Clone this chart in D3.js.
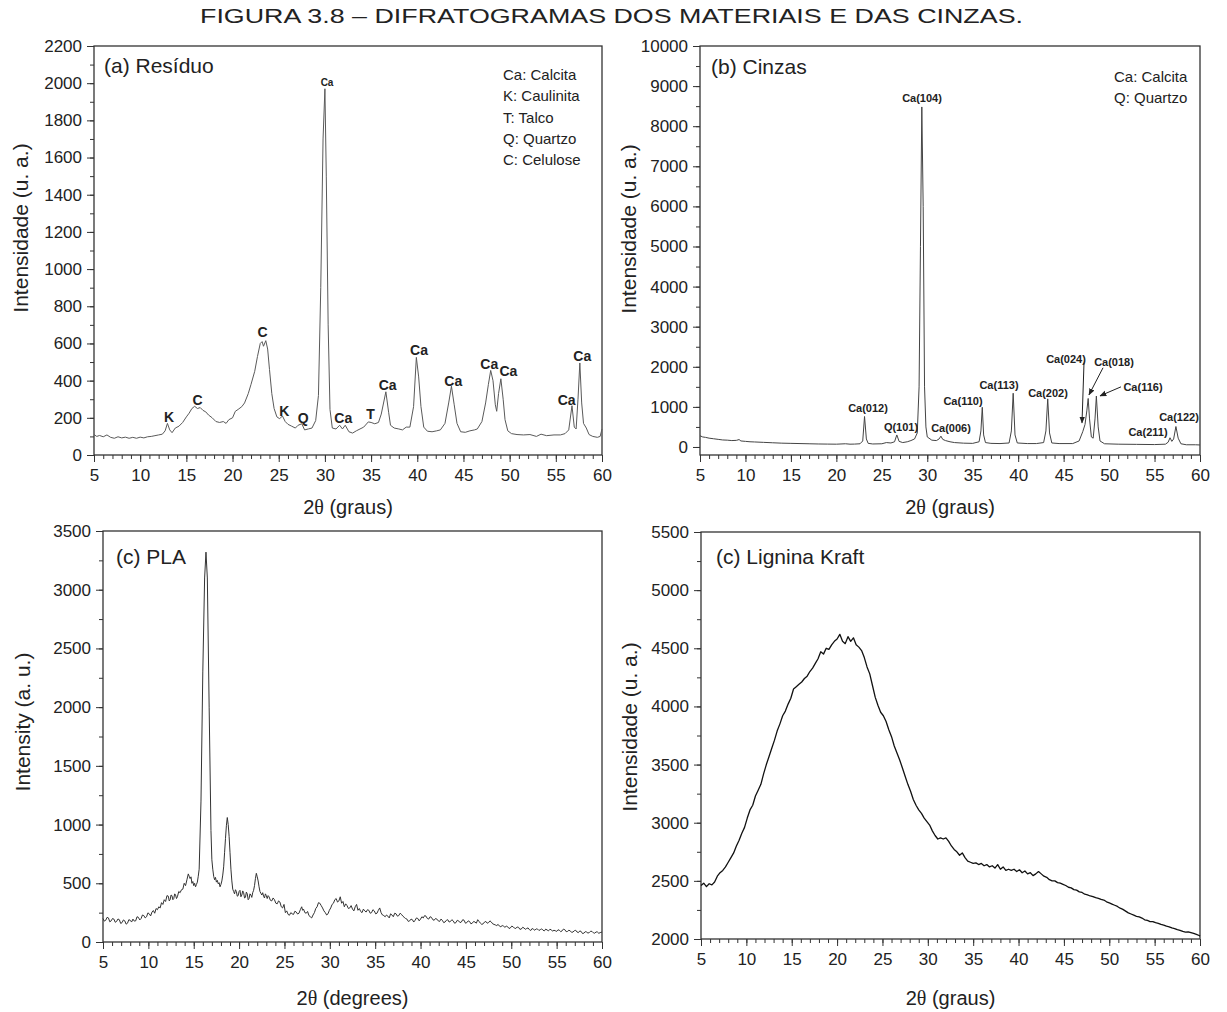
<!DOCTYPE html>
<html>
<head>
<meta charset="utf-8">
<script src="https://cdn.jsdelivr.net/npm/d3@7"></script>
<style>
  body { margin: 0; background: #fff; }
  text { font-family: "Liberation Sans", Arial, sans-serif; fill: #222; }
</style>
</head>
<body>
<svg id="fig" width="1227" height="1012"></svg>
<script>
// ---- data (2theta in degrees, intensity) ----
const xTicks = [5, 10, 15, 20, 25, 30, 35, 40, 45, 50, 55, 60];

const residuoData = [
  [5.0,110],[5.3,100],[5.6,105],[6.0,98],[6.4,108],[6.8,95],[7.2,90],[7.6,98],[8.0,92],[8.4,96],
  [8.8,90],[9.2,95],[9.6,90],[10.0,96],[10.4,92],[10.8,98],[11.2,100],[11.6,104],[12.0,108],[12.4,112],
  [12.7,130],[12.95,170],[13.2,135],[13.45,120],[13.8,145],[14.2,155],[14.6,175],[15.0,205],[15.3,225],
  [15.6,250],[15.9,262],[16.2,250],[16.5,255],[16.8,240],[17.1,232],[17.4,215],[17.8,200],[18.2,180],
  [18.6,175],[19.0,180],[19.3,170],[19.6,190],[20.0,200],[20.3,235],[20.6,245],[21.0,260],[21.3,280],
  [21.7,330],[22.0,380],[22.4,450],[22.7,530],[23.0,600],[23.2,610],[23.35,585],[23.6,615],[23.8,570],
  [24.0,460],[24.25,330],[24.5,250],[24.8,205],[25.1,195],[25.4,210],[25.7,180],[26.0,165],[26.4,155],
  [26.8,145],[27.1,160],[27.5,168],[27.8,135],[28.2,140],[28.6,145],[29.0,185],[29.3,320],[29.55,900],
  [29.8,1700],[30.0,1970],[30.15,1500],[30.35,700],[30.55,245],[30.8,145],[31.2,140],[31.6,160],
  [31.9,140],[32.2,160],[32.6,125],[33.0,118],[33.4,130],[33.8,140],[34.2,150],[34.7,178],[35.0,175],
  [35.4,168],[35.8,175],[36.1,220],[36.6,340],[36.9,230],[37.1,160],[37.5,145],[38.0,140],[38.4,135],
  [38.8,150],[39.2,150],[39.6,260],[39.9,525],[40.15,420],[40.4,260],[40.7,150],[41.1,128],[41.6,125],
  [42.1,130],[42.5,135],[43.0,170],[43.4,280],[43.7,370],[44.0,270],[44.3,170],[44.7,125],[45.2,122],
  [45.7,130],[46.2,135],[46.5,140],[47.0,180],[47.4,280],[47.7,380],[47.95,455],[48.2,400],[48.45,270],
  [48.6,235],[48.8,330],[49.05,410],[49.3,300],[49.5,190],[49.8,130],[50.2,115],[50.8,110],[51.5,108],
  [52.2,110],[52.9,100],[53.4,112],[54.0,104],[54.8,108],[55.5,108],[56.0,115],[56.4,135],[56.75,265],
  [57.0,150],[57.2,140],[57.4,300],[57.6,495],[57.8,280],[58.0,170],[58.3,145],[58.6,110],[59.0,100],
  [59.5,95],[59.8,100],[60.0,140]
];

const cinzasData = [
  [5.0,280],[5.3,250],[5.6,240],[6.0,220],[6.5,205],[7.0,190],[7.5,175],[8.0,170],[8.5,160],[9.0,165],
  [9.3,185],[9.5,150],[10.0,140],[10.5,130],[11.0,125],[12.0,115],[13.0,105],[14.0,95],[15.0,90],
  [16.0,85],[17.0,80],[18.0,75],[19.0,72],[20.0,70],[21.0,80],[21.5,70],[22.0,72],[22.6,80],[22.9,150],
  [23.1,760],[23.3,200],[23.5,90],[24.0,75],[25.0,80],[25.5,110],[26.0,100],[26.4,130],[26.65,300],
  [26.9,140],[27.3,110],[27.8,130],[28.2,160],[28.6,200],[28.9,350],[29.1,1500],[29.25,5000],[29.4,8480],
  [29.55,6000],[29.7,1500],[29.85,500],[30.0,250],[30.5,170],[31.0,160],[31.3,200],[31.5,270],[31.7,190],
  [32.0,160],[32.5,130],[33.0,110],[34.0,95],[35.0,90],[35.7,130],[35.9,400],[36.05,990],[36.2,300],
  [36.4,110],[37.0,90],[38.0,85],[39.0,100],[39.25,400],[39.45,1340],[39.65,300],[39.9,100],[41.0,85],
  [42.0,85],[42.8,110],[43.05,400],[43.25,1200],[43.45,350],[43.7,100],[44.5,85],[46.0,85],[46.7,150],
  [47.1,380],[47.35,560],[47.55,900],[47.7,1210],[47.85,700],[48.05,250],[48.25,220],[48.45,700],
  [48.6,1270],[48.8,500],[49.0,150],[49.5,80],[51.0,70],[53.0,65],[55.0,60],[56.2,70],[56.5,120],
  [56.7,230],[56.9,140],[57.1,200],[57.35,510],[57.6,220],[57.9,80],[58.5,55],[59.5,55],[60.0,50]
];

const plaData = [
  [5.0,200],[5.15,178],[5.3,185],[5.45,210],[5.6,205],[5.75,172],[5.9,180],[6.05,200],[6.2,195],
  [6.35,168],[6.5,175],[6.65,196],[6.8,190],[6.95,158],[7.1,165],[7.25,188],[7.4,180],[7.55,152],
  [7.7,160],[7.85,190],[8.0,185],[8.15,170],[8.3,195],[8.45,178],[8.6,180],[8.75,215],[8.9,210],
  [9.05,188],[9.2,200],[9.35,230],[9.5,225],[9.65,205],[9.8,215],[9.95,248],[10.1,240],[10.25,222],
  [10.4,255],[10.55,268],[10.7,245],[10.85,285],[11.0,275],[11.15,300],[11.3,290],[11.45,335],
  [11.6,320],[11.75,360],[11.9,345],[12.05,395],[12.2,390],[12.3,350],[12.4,360],[12.5,400],[12.6,395],
  [12.7,360],[12.8,370],[12.9,410],[13.0,400],[13.1,370],[13.2,385],[13.35,430],[13.5,420],[13.65,445],
  [13.8,450],[13.95,500],[14.1,480],[14.25,530],[14.4,580],[14.5,560],[14.6,540],[14.7,555],[14.8,500],
  [14.9,515],[15.0,480],[15.1,500],[15.2,470],[15.3,490],[15.4,510],[15.5,560],[15.6,620],[15.8,1200],
  [16.0,2300],[16.2,3100],[16.35,3320],[16.5,3100],[16.7,2000],[16.9,950],[17.0,700],[17.1,620],
  [17.2,560],[17.3,530],[17.4,550],[17.5,510],[17.6,525],[17.7,495],[17.8,505],[17.9,470],[18.0,490],
  [18.1,520],[18.2,570],[18.3,640],[18.4,760],[18.5,880],[18.6,990],[18.7,1060],[18.8,1000],[18.9,900],
  [19.0,760],[19.1,620],[19.2,520],[19.3,450],[19.4,430],[19.5,410],[19.6,445],[19.7,430],[19.8,390],
  [19.9,395],[20.0,430],[20.1,440],[20.2,385],[20.3,400],[20.4,435],[20.5,420],[20.6,375],[20.7,380],
  [20.8,425],[20.9,410],[21.0,360],[21.1,370],[21.2,410],[21.3,400],[21.4,380],[21.5,420],[21.6,440],
  [21.7,480],[21.8,540],[21.9,585],[22.0,555],[22.1,520],[22.2,470],[22.3,430],[22.4,415],[22.5,400],
  [22.6,420],[22.7,390],[22.8,375],[22.9,410],[23.0,395],[23.1,370],[23.2,395],[23.3,385],[23.45,355],
  [23.6,350],[23.75,375],[23.9,360],[24.05,330],[24.2,325],[24.35,350],[24.5,340],[24.65,300],
  [24.8,290],[24.95,320],[25.1,250],[25.25,265],[25.4,235],[25.55,228],[25.7,250],[25.85,240],
  [26.0,235],[26.15,262],[26.3,255],[26.45,238],[26.6,245],[26.75,275],[26.9,300],[27.0,270],
  [27.1,280],[27.25,250],[27.4,245],[27.55,260],[27.7,225],[27.85,215],[28.0,205],[28.15,230],
  [28.3,250],[28.45,285],[28.6,300],[28.75,335],[28.9,330],[29.05,310],[29.2,290],[29.35,265],
  [29.5,250],[29.65,230],[29.8,240],[29.95,270],[30.1,290],[30.25,320],[30.4,330],[30.55,360],
  [30.7,370],[30.85,340],[31.0,350],[31.15,385],[31.3,330],[31.45,345],[31.6,300],[31.75,325],
  [31.9,310],[32.05,285],[32.2,290],[32.35,310],[32.5,280],[32.65,265],[32.8,300],[32.95,320],
  [33.1,270],[33.25,285],[33.4,260],[33.55,250],[33.7,280],[33.85,265],[34.0,255],[34.15,275],
  [34.3,270],[34.45,245],[34.6,250],[34.75,275],[34.9,265],[35.05,240],[35.2,245],[35.35,270],
  [35.5,290],[35.65,250],[35.8,230],[35.95,225],[36.1,215],[36.25,230],[36.4,220],[36.55,205],
  [36.7,240],[36.85,230],[37.0,215],[37.15,245],[37.3,240],[37.45,220],[37.6,225],[37.75,245],
  [37.9,235],[38.05,220],[38.2,210],[38.35,200],[38.5,195],[38.65,175],[38.8,180],[38.95,195],
  [39.1,190],[39.25,170],[39.4,185],[39.55,205],[39.7,200],[39.85,180],[40.0,195],[40.15,215],
  [40.3,205],[40.45,225],[40.6,220],[40.75,200],[40.9,195],[41.05,215],[41.2,210],[41.35,190],
  [41.5,185],[41.65,200],[41.8,195],[41.95,180],[42.1,175],[42.25,195],[42.4,185],[42.55,165],
  [42.7,170],[42.85,185],[43.0,190],[43.15,170],[43.3,175],[43.45,190],[43.6,180],[43.75,160],
  [43.9,165],[44.05,185],[44.2,180],[44.35,165],[44.5,170],[44.65,190],[44.8,185],[44.95,160],
  [45.1,165],[45.25,180],[45.4,175],[45.55,155],[45.7,160],[45.85,175],[46.0,170],[46.15,160],
  [46.3,190],[46.45,175],[46.6,160],[46.75,150],[46.9,155],[47.05,170],[47.2,175],[47.35,160],
  [47.5,165],[47.65,180],[47.8,170],[47.95,155],[48.1,150],[48.25,145],[48.4,140],[48.55,150],
  [48.7,135],[48.85,130],[49.0,140],[49.15,135],[49.3,125],[49.45,135],[49.6,130],[49.75,115],
  [49.9,120],[50.05,135],[50.2,130],[50.35,118],[50.5,115],[50.65,128],[50.8,125],[50.95,108],
  [51.1,110],[51.25,125],[51.4,120],[51.55,108],[51.7,115],[51.85,120],[52.0,105],[52.15,98],
  [52.3,115],[52.45,108],[52.6,100],[52.75,112],[52.9,110],[53.05,98],[53.2,105],[53.35,112],
  [53.5,100],[53.65,95],[53.8,110],[53.95,102],[54.1,95],[54.25,108],[54.4,105],[54.55,92],
  [54.7,100],[54.85,96],[55.0,90],[55.15,104],[55.3,100],[55.45,88],[55.6,95],[55.75,110],
  [55.9,105],[56.05,88],[56.2,90],[56.35,100],[56.5,95],[56.65,82],[56.8,85],[56.95,96],[57.1,100],
  [57.25,85],[57.4,80],[57.55,94],[57.7,90],[57.85,72],[58.0,75],[58.15,88],[58.3,85],[58.45,76],
  [58.6,80],[58.75,92],[58.9,90],[59.05,78],[59.2,75],[59.35,86],[59.5,85],[59.65,74],[59.8,80],
  [60.0,85]
];

const ligninaData = [
  [5.0,2460],[5.3,2480],[5.6,2450],[5.9,2475],[6.2,2465],[6.5,2490],[6.8,2540],[7.1,2570],[7.4,2590],
  [7.7,2620],[8.0,2660],[8.3,2700],[8.6,2740],[8.9,2800],[9.2,2850],[9.5,2910],[9.8,2960],[10.1,3040],
  [10.4,3110],[10.7,3150],[11.0,3230],[11.3,3280],[11.6,3330],[11.9,3420],[12.2,3500],[12.5,3570],
  [12.8,3640],[13.1,3710],[13.4,3790],[13.7,3850],[14.0,3920],[14.3,3960],[14.6,4020],[14.9,4070],
  [15.2,4150],[15.5,4170],[15.8,4190],[16.1,4210],[16.4,4240],[16.7,4260],[17.0,4300],[17.3,4330],
  [17.6,4370],[17.9,4410],[18.2,4470],[18.5,4450],[18.8,4500],[19.1,4490],[19.4,4530],[19.7,4560],
  [20.0,4580],[20.3,4620],[20.6,4560],[20.9,4540],[21.2,4600],[21.5,4560],[21.8,4590],[22.1,4530],
  [22.4,4510],[22.7,4480],[23.0,4420],[23.3,4340],[23.6,4280],[23.9,4180],[24.2,4080],[24.5,4010],
  [24.8,3950],[25.1,3920],[25.4,3870],[25.7,3800],[26.0,3740],[26.3,3660],[26.6,3600],[26.9,3540],
  [27.2,3470],[27.5,3400],[27.8,3330],[28.1,3270],[28.4,3200],[28.7,3150],[29.0,3110],[29.3,3080],
  [29.6,3040],[29.9,3010],[30.2,2980],[30.5,2930],[30.8,2890],[31.1,2860],[31.4,2870],[31.7,2860],
  [32.0,2870],[32.3,2840],[32.6,2800],[32.9,2770],[33.2,2750],[33.5,2720],[33.8,2740],[34.1,2700],
  [34.4,2670],[34.7,2660],[35.0,2650],[35.3,2655],[35.6,2640],[35.9,2650],[36.2,2630],[36.5,2640],
  [36.8,2620],[37.1,2630],[37.4,2610],[37.7,2640],[38.0,2600],[38.3,2620],[38.6,2590],[38.9,2600],
  [39.2,2590],[39.5,2600],[39.8,2580],[40.1,2595],[40.4,2570],[40.7,2585],[41.0,2560],[41.3,2570],
  [41.6,2545],[41.9,2560],[42.2,2580],[42.5,2560],[42.8,2540],[43.1,2530],[43.4,2510],[43.7,2500],
  [44.0,2500],[44.3,2485],[44.6,2480],[44.9,2470],[45.2,2460],[45.5,2445],[45.8,2440],[46.1,2425],
  [46.4,2420],[46.7,2405],[47.0,2400],[47.3,2385],[47.6,2380],[47.9,2370],[48.2,2365],[48.5,2355],
  [48.8,2350],[49.1,2340],[49.4,2335],[49.7,2320],[50.0,2310],[50.3,2300],[50.6,2290],[50.9,2280],
  [51.2,2265],[51.5,2255],[51.8,2240],[52.1,2225],[52.4,2215],[52.7,2205],[53.0,2195],[53.3,2190],
  [53.6,2180],[53.9,2165],[54.2,2160],[54.5,2150],[54.8,2150],[55.1,2140],[55.4,2135],[55.7,2125],
  [56.0,2120],[56.3,2110],[56.6,2105],[56.9,2095],[57.2,2090],[57.5,2080],[57.8,2075],[58.1,2065],
  [58.4,2060],[58.7,2062],[59.0,2055],[59.3,2048],[59.6,2040],[59.9,2030],[60.0,2025]
];

const residuoPeaks = [
  {t:"K", x:13.12, y:203}, {t:"C", x:16.22, y:296}, {t:"C", x:23.26, y:660},
  {t:"K", x:25.6, y:238}, {t:"Q", x:27.66, y:197}, {t:"Ca", x:31.99, y:197},
  {t:"T", x:34.95, y:220}, {t:"Ca", x:36.8, y:377}, {t:"Ca", x:40.19, y:565},
  {t:"Ca", x:43.9, y:400}, {t:"Ca", x:47.8, y:490}, {t:"Ca", x:49.86, y:453},
  {t:"Ca", x:56.18, y:296}, {t:"Ca", x:57.87, y:533}
];
const residuoTopPeak = {t:"Ca", x:30.23, y:2006};

const cinzasPeaks = [
  {t:"Ca(104)", x:29.42, y:8700}, {t:"Ca(012)", x:23.48, y:975}, {t:"Q(101)", x:27.11, y:500},
  {t:"Ca(006)", x:32.61, y:475}, {t:"Ca(110)", x:33.93, y:1150}, {t:"Ca(113)", x:37.89, y:1550},
  {t:"Ca(202)", x:43.28, y:1350}, {t:"Ca(024)", x:45.26, y:2200}, {t:"Ca(018)", x:50.54, y:2125},
  {t:"Ca(116)", x:53.73, y:1500}, {t:"Ca(211)", x:54.28, y:375}, {t:"Ca(122)", x:57.69, y:750}
];
const cinzasArrows = [
  {x1:47.24, y1:2100, x2:47.02, y2:600},
  {x1:49.33, y1:1975, x2:47.79, y2:1300},
  {x1:51.31, y1:1500, x2:49.0, y2:1275}
];

const residuoLegend = ["Ca: Calcita", "K: Caulinita", "T: Talco", "Q: Quartzo", "C: Celulose"];
const cinzasLegend = ["Ca: Calcita", "Q: Quartzo"];

// ---- layout ----
const svg = d3.select("#fig");

svg.append("text")
  .attr("x", 200).attr("y", 23)
  .attr("textLength", 823)
  .attr("lengthAdjust", "spacingAndGlyphs")
  .style("font-size", "21px")
  .text("FIGURA 3.8 – DIFRATOGRAMAS DOS MATERIAIS E DAS CINZAS.");

const panels = [
  {id: "a", data: residuoData, left: 94, right: 602, top: 46, bottom: 455,
   yDomain: [0, 2200], yMajor: 200, yMinor: 100, color: "#5a5a5a", width: 1,
   title: "(a) Resíduo", titleDx: 10, titleDy: 27,
   yTitle: "Intensidade (u. a.)", xTitle: "(graus)",
   yTitleX: 21, yTitleY: 228, xTitleY: 507, legend: residuoLegend, legendDx: 409, legendDy: 29},
  {id: "b", data: cinzasData, left: 700, right: 1200, top: 46, bottom: 455,
   yDomain: [-200, 10000], yMajor: 1000, yMinor: 500, color: "#444", width: 1,
   title: "(b) Cinzas", titleDx: 11, titleDy: 28,
   yTitle: "Intensidade (u. a.)", xTitle: "(graus)",
   yTitleX: 629, yTitleY: 229, xTitleY: 507, legend: cinzasLegend, legendDx: 414, legendDy: 31},
  {id: "c", data: plaData, left: 103, right: 602, top: 531, bottom: 942,
   yDomain: [0, 3500], yMajor: 500, yMinor: 250, color: "#333", width: 1,
   title: "(c) PLA", titleDx: 13, titleDy: 33,
   yTitle: "Intensity (a. u.)", xTitle: "(degrees)",
   yTitleX: 23, yTitleY: 722, xTitleY: 998, legend: [], legendDx: 0, legendDy: 0},
  {id: "d", data: ligninaData, left: 701, right: 1200, top: 532, bottom: 939,
   yDomain: [2000, 5500], yMajor: 500, yMinor: 250, color: "#111", width: 1.3,
   title: "(c) Lignina Kraft", titleDx: 15, titleDy: 32,
   yTitle: "Intensidade (u. a.)", xTitle: "(graus)",
   yTitleX: 630, yTitleY: 727, xTitleY: 998, legend: [], legendDx: 0, legendDy: 0}
];

svg.append("defs").append("marker")
  .attr("id", "arrow")
  .attr("viewBox", "0 0 10 10")
  .attr("refX", 9).attr("refY", 5)
  .attr("markerWidth", 7).attr("markerHeight", 7)
  .attr("orient", "auto")
.append("path")
  .attr("d", "M0,1L10,5L0,9Z")
  .attr("fill", "#222");

function styleAxis(g) {
  g.select(".domain").remove();
  g.selectAll(".tick line").attr("stroke", "#333").attr("stroke-width", 1);
  g.selectAll(".tick text").style("font-size", "17px").attr("fill", "#222");
}

function drawPanel(p) {
  const x = d3.scaleLinear().domain([5, 60]).range([p.left, p.right]);
  const y = d3.scaleLinear().domain(p.yDomain).range([p.bottom, p.top]);
  const g = svg.append("g").attr("class", "panel-" + p.id);

  const yMax = p.yDomain[1];
  const yStart = Math.max(0, Math.ceil(p.yDomain[0] / p.yMinor) * p.yMinor);
  const yMinorTicks = d3.range(yStart, yMax + 1, p.yMinor);
  const yMajorTicks = d3.range(Math.max(0, p.yDomain[0]), yMax + 1, p.yMajor);
  const xMinorTicks = d3.range(5, 61, 1);

  // minor ticks
  g.append("g")
    .attr("transform", `translate(0,${p.bottom})`)
    .call(d3.axisBottom(x).tickValues(xMinorTicks).tickSize(4).tickFormat(""))
    .call(styleAxis);
  g.append("g")
    .attr("transform", `translate(${p.left},0)`)
    .call(d3.axisLeft(y).tickValues(yMinorTicks).tickSize(4).tickFormat(""))
    .call(styleAxis);

  // major ticks + labels
  g.append("g")
    .attr("transform", `translate(0,${p.bottom})`)
    .call(d3.axisBottom(x).tickValues(xTicks).tickSize(7).tickPadding(7).tickFormat(d3.format("d")))
    .call(styleAxis);
  g.append("g")
    .attr("transform", `translate(${p.left},0)`)
    .call(d3.axisLeft(y).tickValues(yMajorTicks).tickSize(7).tickPadding(5).tickFormat(d3.format("d")))
    .call(styleAxis);

  // frame
  g.append("rect")
    .attr("x", p.left).attr("y", p.top)
    .attr("width", p.right - p.left).attr("height", p.bottom - p.top)
    .attr("fill", "none")
    .attr("stroke", "#333")
    .attr("stroke-width", 1.3);

  // curve
  const line = d3.line()
    .x(d => x(d[0]))
    .y(d => y(d[1]));

  g.append("path")
    .datum(p.data)
    .attr("fill", "none")
    .attr("stroke", p.color)
    .attr("stroke-width", p.width)
    .attr("stroke-linejoin", "round")
    .attr("d", line);

  // panel title
  g.append("text")
    .attr("x", p.left + p.titleDx).attr("y", p.top + p.titleDy)
    .style("font-size", "21px")
    .text(p.title);

  // legend
  g.selectAll("text.legend")
    .data(p.legend)
    .join("text")
    .attr("class", "legend")
    .attr("x", p.left + p.legendDx)
    .attr("y", (d, i) => p.top + p.legendDy + i * 21.3 + 5)
    .style("font-size", "15px")
    .text(d => d);

  // axis titles
  g.append("text")
    .attr("transform", `translate(${p.yTitleX},${p.yTitleY}) rotate(-90)`)
    .attr("text-anchor", "middle")
    .attr("dy", "0.35em")
    .style("font-size", "21px")
    .text(p.yTitle);

  const xt = g.append("text")
    .attr("x", (p.left + p.right) / 2).attr("y", p.xTitleY)
    .attr("text-anchor", "middle")
    .attr("dy", "0.35em")
    .style("font-size", "20px");
  xt.append("tspan").text("2");
  xt.append("tspan").style("font-family", "'Liberation Serif', serif").text("θ");
  xt.append("tspan").text(" " + p.xTitle);

  return {x, y, g};
}

const views = panels.map(drawPanel);

// peak labels, panel (a)
const va = views[0];
va.g.selectAll("text.peak")
  .data(residuoPeaks)
  .join("text")
  .attr("class", "peak")
  .attr("x", d => va.x(d.x)).attr("y", d => va.y(d.y))
  .attr("text-anchor", "middle").attr("dy", "0.35em")
  .style("font-size", "14px").style("font-weight", "bold")
  .text(d => d.t);
va.g.append("text")
  .attr("x", va.x(residuoTopPeak.x)).attr("y", va.y(residuoTopPeak.y))
  .attr("text-anchor", "middle").attr("dy", "0.35em")
  .style("font-size", "10px").style("font-weight", "bold")
  .text(residuoTopPeak.t);

// peak labels and arrows, panel (b)
const vb = views[1];
vb.g.selectAll("text.peak")
  .data(cinzasPeaks)
  .join("text")
  .attr("class", "peak")
  .attr("x", d => vb.x(d.x)).attr("y", d => vb.y(d.y))
  .attr("text-anchor", "middle").attr("dy", "0.35em")
  .style("font-size", "11px").style("font-weight", "bold")
  .text(d => d.t);
vb.g.selectAll("line.arrow")
  .data(cinzasArrows)
  .join("line")
  .attr("class", "arrow")
  .attr("x1", d => vb.x(d.x1)).attr("y1", d => vb.y(d.y1))
  .attr("x2", d => vb.x(d.x2)).attr("y2", d => vb.y(d.y2))
  .attr("stroke", "#222").attr("stroke-width", 1)
  .attr("marker-end", "url(#arrow)");
</script>
</body>
</html>
